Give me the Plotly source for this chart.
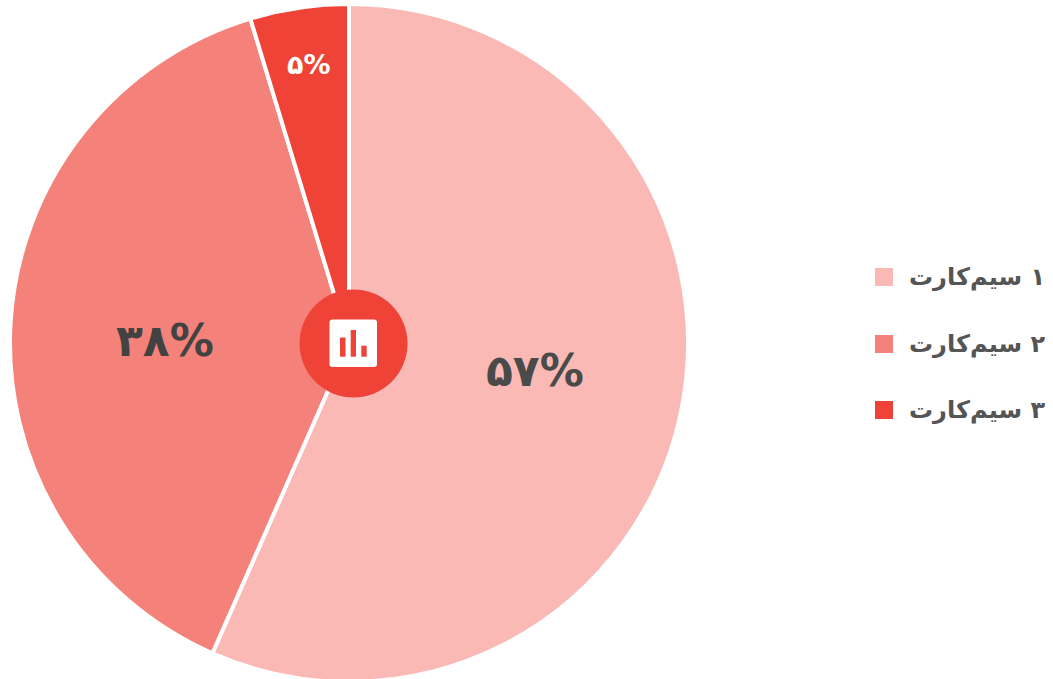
import plotly.graph_objects as go

# shares, printed labels are the rounded ones
labels = ["۱ سیم‌کارت", "۲ سیم‌کارت", "۳ سیم‌کارت"]
values = [56.6, 38.7, 4.7]
pct_text = ["۵۷%", "۳۸%", "۵%"]
colors = ["#FAB9B5", "#F4827A", "#EE4336"]

# figure is a bit taller than the window, the pie runs off the bottom edge
W, H = 1053, 690
FONT = "DejaVu Sans"


def px(x):
    return x / W


def py(y):
    return 1 - y / H


pie = go.Pie(
    labels=labels,
    values=values,
    sort=False,
    direction="clockwise",
    rotation=0,
    textinfo="none",
    hoverinfo="label+percent",
    marker=dict(colors=colors, line=dict(color="white", width=4)),
    domain=dict(x=[px(10), px(688)], y=[py(682), py(4)]),
    showlegend=False,
)

shapes = []
annotations = []

# slice labels
pct_pos = [(535, 370), (165, 340), (309, 65)]
pct_size = [44, 44, 27]
pct_color = ["#4A4A4A", "#424242", "white"]
for t, (x, y), s, c in zip(pct_text, pct_pos, pct_size, pct_color):
    annotations.append(dict(text="<b>%s</b>" % t, x=px(x), y=py(y), xref="paper", yref="paper",
                            xanchor="center", yanchor="middle", showarrow=False,
                            font=dict(family=FONT, size=s, color=c)))

# legend built by hand, plotly's pie swatch is smaller and takes the white border
legend_y = [277, 344, 410]
for lab, c, y in zip(labels, colors, legend_y):
    shapes.append(dict(type="rect", xref="paper", yref="paper", x0=px(875), x1=px(893),
                       y0=py(y - 9), y1=py(y + 9), fillcolor=c, line_width=0))
    annotations.append(dict(text="<b>\u200f%s\u200f</b>" % lab, x=px(907), y=py(y), xref="paper", yref="paper",
                            xanchor="left", yanchor="middle", showarrow=False,
                            font=dict(family=FONT, size=24, color="#555555")))

# centre badge
shapes.append(dict(type="circle", xref="paper", yref="paper", x0=px(299.5), x1=px(407.5),
                   y0=py(289.5), y1=py(397.5), fillcolor=colors[2], line_width=0))
l, r, t, b, c = px(329.5), px(377), py(319.5), py(367), 3
shapes.append(dict(type="path", xref="paper", yref="paper", fillcolor="white", line_width=0,
                   path="M %f %f L %f %f Q %f %f %f %f L %f %f Q %f %f %f %f L %f %f Q %f %f %f %f L %f %f Q %f %f %f %f Z" % (
                       l + c / W, t, r - c / W, t, r, t, r, t - c / H,
                       r, b + c / H, r, b, r - c / W, b,
                       l + c / W, b, l, b, l, b + c / H,
                       l, t - c / H, l, t, l + c / W, t)))
for x0, x1, top in [(340, 345.5, 337.5), (350.7, 356, 330), (361.3, 366.7, 345.7)]:
    shapes.append(dict(type="rect", xref="paper", yref="paper", x0=px(x0), x1=px(x1),
                       y0=py(top), y1=py(356.7), fillcolor=colors[2], line_width=0))

layout = go.Layout(
    width=W,
    height=H,
    margin=dict(l=0, r=0, t=0, b=0),
    paper_bgcolor="white",
    shapes=shapes,
    annotations=annotations,
)

fig = go.Figure(data=[pie], layout=layout)
fig.write_html("out.html", config=dict(displayModeBar=False),
               post_script="document.body.style.margin='0';document.body.style.overflow='hidden';")
